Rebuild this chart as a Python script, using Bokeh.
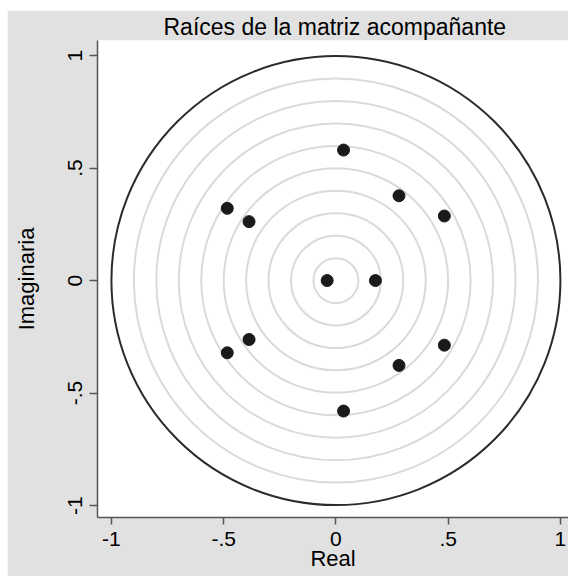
from bokeh.plotting import figure
from bokeh.models import FixedTicker, Range1d
from bokeh.embed import file_html
from bokeh.resources import INLINE

# ---- data ----
real_parts = [-0.039, 0.176, 0.034, 0.034, 0.281, 0.281, 0.483, 0.483, -0.484, -0.484, -0.387, -0.387]
imag_parts = [0.0, 0.0, 0.580, -0.580, 0.377, -0.377, 0.287, -0.287, 0.321, -0.321, 0.262, -0.262]
ring_radii = [0.1, 0.2, 0.3, 0.4, 0.5, 0.6, 0.7, 0.8, 0.9]
unit_radius = [1.0]
tick_values = [-1.0, -0.5, 0.0, 0.5, 1.0]
tick_labels = ["-1", "-.5", "0", ".5", "1"]
title_text = "Raíces de la matriz acompañante"
x_label = "Real"
y_label = "Imaginaria"

FONT = "Liberation Sans"
BG = "#e1e1e1"

p = figure(
    width=561, height=566,
    x_range=Range1d(-1.062, 1.036), y_range=Range1d(-1.053, 1.067),
    output_backend="svg", toolbar_location=None,
    background_fill_color="white", border_fill_color=BG,
    outline_line_color=None,
    min_border_left=90, min_border_right=0, min_border_top=30, min_border_bottom=59,
)
p.margin = (10, 0, 0, 7)

p.title.text = title_text
p.title.align = "left"
p.title.offset = 66
p.title.text_font = FONT
p.title.text_font_size = "23px"
p.title.text_font_style = "normal"
p.title.text_color = "black"
p.title.standoff = 2

p.grid.grid_line_color = None

for ax in (p.xaxis, p.yaxis):
    ax.ticker = FixedTicker(ticks=tick_values)
    ax.major_label_overrides = dict(zip(tick_values, tick_labels))
    ax.minor_tick_line_color = None
    ax.major_tick_in = 0
    ax.axis_line_color = "#555555"
    ax.axis_line_width = 1.5
    ax.major_tick_line_color = "#555555"
    ax.major_tick_line_width = 1.5
    ax.major_label_text_font = FONT
    ax.major_label_text_font_size = "21px"
    ax.major_label_text_color = "black"
    ax.axis_label_text_font = FONT
    ax.axis_label_text_font_size = "22px"
    ax.axis_label_text_font_style = "normal"
    ax.axis_label_text_color = "black"

p.xaxis.axis_label = x_label
p.xaxis.major_tick_out = 7
p.xaxis.major_label_standoff = 7
p.xaxis.axis_label_standoff = -3

p.yaxis.axis_label = y_label
p.yaxis.major_tick_out = 8
p.yaxis.major_label_orientation = "vertical"
p.yaxis.major_label_standoff = 7
p.yaxis.axis_label_standoff = 27

p.circle(x=[0.0] * len(ring_radii), y=[0.0] * len(ring_radii), radius=ring_radii,
         fill_color=None, line_color="#dadada", line_width=2)
p.circle(x=[0.0], y=[0.0], radius=unit_radius,
         fill_color=None, line_color="#2b2b2b", line_width=2)
p.scatter(x=real_parts, y=imag_parts, size=12, color="#1a1a1a", line_color="#1a1a1a")

open("out.html", "w").write(file_html(p, INLINE))
